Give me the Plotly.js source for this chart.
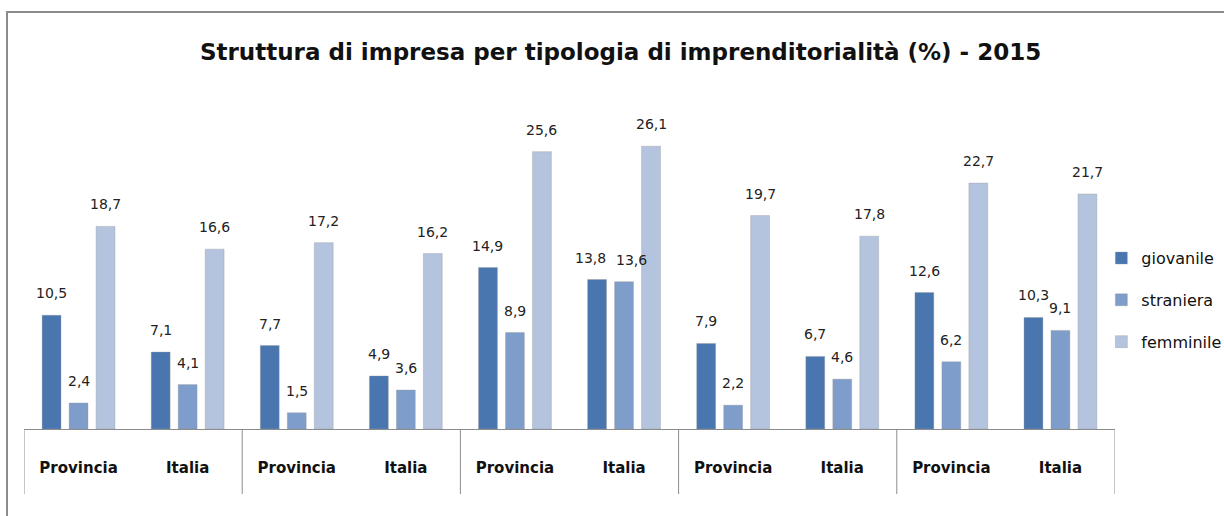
<!DOCTYPE html>
<html>
<head>
<meta charset="utf-8">
<script src="https://cdn.plot.ly/plotly-3.0.1.min.js"></script>
<style>
  html, body { margin: 0; padding: 0; background: #fff; }
  #wrap { position: relative; width: 1224px; height: 516px; overflow: hidden; }
  #chart { position: absolute; left: 0; top: 0; width: 1224px; height: 516px; }
  #frame { position: absolute; left: 6px; top: 11px; width: 1300px; height: 600px;
           border-left: 2px solid #8c8c8c; border-top: 2px solid #8c8c8c; pointer-events: none; }
</style>
</head>
<body>
<div id="wrap">
  <div id="chart"></div>
  <div id="frame"></div>
</div>
<script>
// ---- data ----
const categories = ["Provincia", "Italia", "Provincia", "Italia", "Provincia", "Italia", "Provincia", "Italia", "Provincia", "Italia"];
const giovanile = [10.5, 7.1, 7.7, 4.9, 14.9, 13.8, 7.9, 6.7, 12.6, 10.3];
const straniera = [2.4, 4.1, 1.5, 3.6, 8.9, 13.6, 2.2, 4.6, 6.2, 9.1];
const femminile = [18.7, 16.6, 17.2, 16.2, 25.6, 26.1, 19.7, 17.8, 22.7, 21.7];
const seriesNames = ["giovanile", "straniera", "femminile"];
const seriesColors = ["#4a76b0", "#7e9dca", "#b4c4df"];
const seriesValues = [giovanile, straniera, femminile];

const positions = categories.map((c, i) => i);
const bargap = 0.258;
const pitch = (1 - bargap) / seriesValues.length;

const fmt = v => v.toFixed(1).replace(".", ",");

const traces = seriesValues.map((vals, s) => ({
  type: "bar",
  name: seriesNames[s],
  legendgroup: seriesNames[s],
  x: positions,
  y: vals,
  marker: { color: seriesColors[s], line: { color: "rgba(150,150,150,0.35)", width: 1 } },
  hoverinfo: "y"
}));

const annotations = [];
seriesValues.forEach((vals, s) => {
  vals.forEach((v, i) => {
    // nudge neighbouring labels apart when their bars are almost the same height
    let xshift = 0;
    if (s === 0 && Math.abs(v - straniera[i]) < 0.5) xshift = -7;
    if (s === 1 && Math.abs(v - giovanile[i]) < 0.5) xshift = 7;
    annotations.push({
      x: positions[i] + (s - 1) * pitch,
      y: v,
      xref: "x", yref: "y",
      text: fmt(v),
      showarrow: false,
      yanchor: "middle",
      yshift: 22,
      xshift: xshift,
      font: { family: "DejaVu Sans, sans-serif", size: 14, color: "#222" }
    });
  });
});

// group separators below the axis
const shapes = [];
for (let b = -0.5; b <= categories.length - 0.5 + 1e-9; b += 2) {
  shapes.push({
    type: "line", xref: "x", yref: "paper",
    x0: b, x1: b, y0: 0, y1: -0.2,
    line: { color: "#8c8c8c", width: 1 }
  });
}

const layout = {
  width: 1224, height: 516,
  margin: { l: 24, r: 109, t: 104, b: 87, autoexpand: false },
  paper_bgcolor: "#fff", plot_bgcolor: "#fff",
  separators: ",.",
  title: {
    text: "<b>Struttura di impresa per tipologia di imprenditorialità (%) - 2015</b>",
    x: 0.507, xanchor: "center", y: 1 - 52 / 516, yanchor: "middle", yref: "container",
    font: { family: "DejaVu Sans, sans-serif", size: 23, color: "#111" }
  },
  barmode: "group",
  bargap: bargap,
  bargroupgap: 0.3,
  xaxis: {
    range: [-0.5, categories.length - 0.5],
    tickvals: positions,
    ticktext: categories,
    showgrid: false, zeroline: false,
    showline: true, linecolor: "#8c8c8c", linewidth: 1,
    ticks: "", ticklabelstandoff: 25,
    tickfont: { family: "DejaVu Sans, sans-serif", size: 15, color: "#111", weight: "bold" }
  },
  yaxis: {
    range: [0, 30],
    visible: false, showgrid: false, zeroline: false
  },
  showlegend: true,
  legend: {
    x: 0.9875, xanchor: "left", y: 0.578, yanchor: "top",
    traceorder: "grouped", tracegroupgap: 18,
    font: { family: "DejaVu Sans, sans-serif", size: 16, color: "#111" },
    bgcolor: "rgba(0,0,0,0)", itemwidth: 30
  },
  annotations: annotations,
  shapes: shapes
};

Plotly.newPlot("chart", traces, layout, { displayModeBar: false, staticPlot: true });
</script>
</body>
</html>
